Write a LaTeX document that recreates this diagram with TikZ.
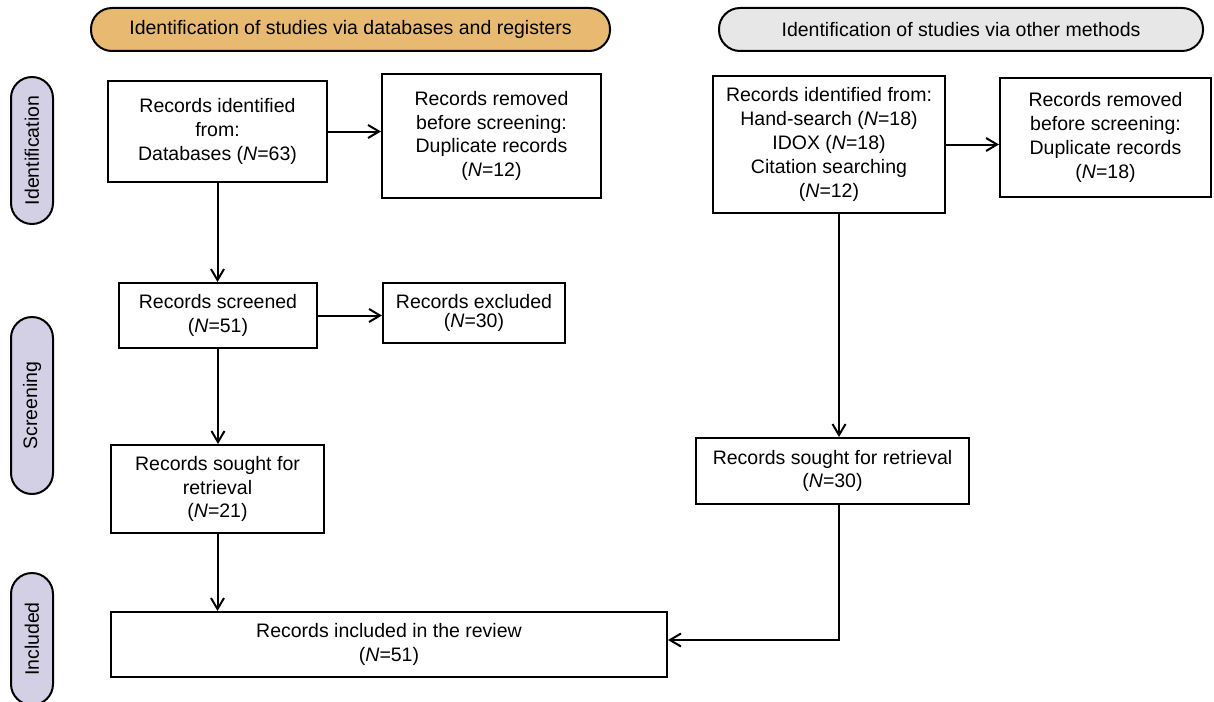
\documentclass[tikz,border=0pt]{standalone}
\usepackage{fontspec}
\setmainfont{Liberation Sans}
\usetikzlibrary{arrows.meta}
\definecolor{hdrA}{RGB}{232,185,112}
\definecolor{hdrB}{RGB}{231,231,231}
\definecolor{sidefill}{RGB}{211,207,228}
\tikzset{
  box/.style={draw, line width=2pt, inner sep=0pt, align=center, font=\fontsize{19.5}{23.8}\selectfont},
  hdr/.style={draw, line width=2pt, rounded corners=21pt, inner sep=0pt, font=\fontsize{19.5}{23.8}\selectfont},
  sidepill/.style={draw, line width=2pt, rounded corners=21pt, fill=sidefill, rotate=90, inner sep=0pt, minimum height=42pt, font=\fontsize{19.5}{23.8}\selectfont},
  arr/.style={line width=2pt, -{Straight Barb[length=11pt,width=13pt]}},
}
\begin{document}
\begin{tikzpicture}[x=1pt,y=-1pt]
\useasboundingbox (0,0) rectangle (1214,701);
% headers
\node[hdr, fill=hdrA, minimum width=519pt, minimum height=43pt] (h1) at (350.5,29.5) {Identification of studies via databases and registers};
\node[hdr, fill=hdrB, minimum width=484pt, minimum height=43pt] (h2) at (961,29.5) {Identification of studies via other methods};
% side pills
\node[sidepill, minimum width=147pt] (s1) at (32,150.5) {Identification};
\node[sidepill, minimum width=177pt] (s2) at (32,405.5) {Screening};
\begin{scope}
\clip (0,0) rectangle (1214,701);
\node[sidepill, minimum width=132pt] (s3) at (32,639) {Included};
\end{scope}
% boxes
\node[box, minimum width=219pt, minimum height=101pt] (A) at (217.5,131.5) {Records identified\\from:\\Databases (\textit{N}=63)};
\node[box, minimum width=219pt, minimum height=124pt] (B) at (491.5,136) {Records removed\\before screening:\\Duplicate records\\(\textit{N}=12)};
\node[box, minimum width=198pt, minimum height=65pt] (C) at (218,315.5) {Records screened\\(\textit{N}=51)};
\node[box, minimum width=182pt, minimum height=60pt, font=\fontsize{19.5}{19}\selectfont] (D) at (474,313) {Records excluded\\(\textit{N}=30)};
\node[box, minimum width=213pt, minimum height=88pt] (E) at (217.5,489) {Records sought for\\retrieval\\(\textit{N}=21)};
\node[box, minimum width=556pt, minimum height=65pt] (F) at (389,644.5) {Records included in the review\\(\textit{N}=51)};
\node[box, minimum width=232pt, minimum height=137pt] (G) at (829,144.5) {Records identified from:\\Hand-search (\textit{N}=18)\\IDOX (\textit{N}=18)\\Citation searching\\(\textit{N}=12)};
\node[box, minimum width=211pt, minimum height=119pt] (H) at (1105.5,137.5) {Records removed\\before screening:\\Duplicate records\\(\textit{N}=18)};
\node[box, minimum width=273pt, minimum height=66pt] (I) at (832.5,471) {Records sought for retrieval\\(\textit{N}=30)};
% connectors
\coordinate (gx) at (839,0);
\draw[arr] (A.east) -- (A.east -| B.west);
\draw[arr] (A.south) -- (A.south |- C.north);
\draw[arr] (C.east) -- (C.east -| D.west);
\draw[arr] (C.south) -- (C.south |- E.north);
\draw[arr] (E.south) -- (E.south |- F.north);
\draw[arr] (G.east) -- (G.east -| H.west);
\draw[arr] (G.south -| gx) -- (I.north -| gx);
\draw[arr] (I.south -| gx) |- ([yshift=4.5pt]F.east);
\end{tikzpicture}
\end{document}
